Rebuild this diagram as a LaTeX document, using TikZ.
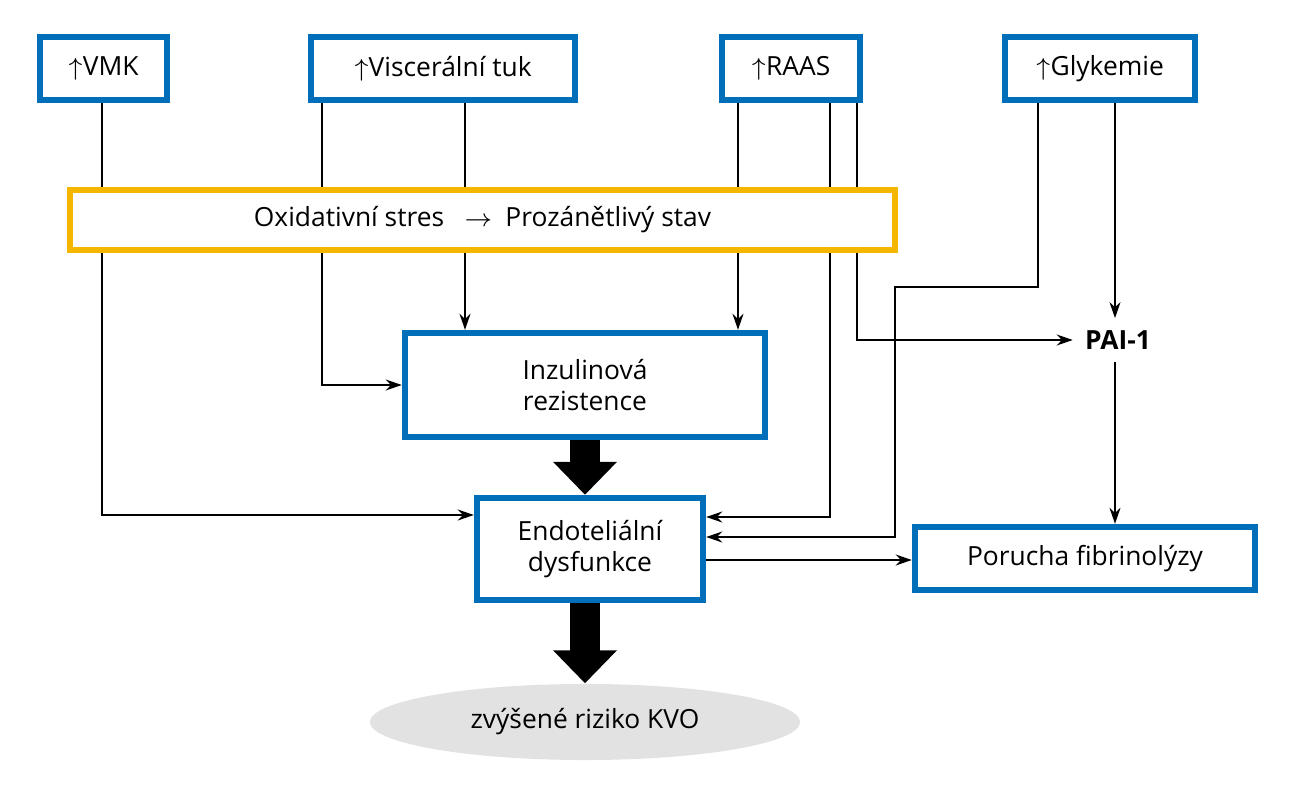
\documentclass[tikz,border=0pt]{standalone}
\usepackage{fontspec}
\setmainfont{Open Sans}
\usetikzlibrary{arrows.meta,shapes.geometric}
\definecolor{boxblue}{RGB}{0,110,185}
\definecolor{boxorange}{RGB}{245,182,0}
\definecolor{ovalgray}{RGB}{226,226,226}
\tikzset{%
  factor/.style = {shape=rectangle, draw=boxblue, line width=1.8pt,%
                   fill=white, align=center, inner sep=0pt,%
                   font=\fontsize{7.5}{9}\selectfont},%
  stress/.style = {factor, draw=boxorange},%
  link/.style   = {-{Stealth[length=1.6mm,width=1.1mm]}, line width=0.45pt},%
  bigarrow/.style = {line width=3mm, -{Triangle[length=3.3mm,width=6.2mm]}}%
}
\begin{document}
\begin{tikzpicture}[x=0.01cm,y=-0.01cm]
	\useasboundingbox (0,0) rectangle (1290,800);
	% top row
	\node [factor, minimum width=1.27cm, minimum height=0.63cm] (vmk) at (103.5,68.5) {$\uparrow$VMK};
	\node [factor, minimum width=2.64cm, minimum height=0.63cm] (tuk) at (443,68.5) {$\uparrow$Viscerální tuk};
	\node [factor, minimum width=1.38cm, minimum height=0.63cm] (raas) at (791,68.5) {$\uparrow$RAAS};
	\node [factor, minimum width=1.9cm, minimum height=0.63cm] (gly) at (1100,68.5) {$\uparrow$Glykemie};
	% middle and bottom
	\node [factor, minimum width=3.6cm, minimum height=1.04cm] (inz) at (585,385) {Inzulinová\\rezistence};
	\node [factor, minimum width=2.26cm, minimum height=1.02cm] (endo) at (590,549) {Endoteliální\\dysfunkce};
	\node [factor, minimum width=3.4cm, minimum height=0.63cm] (fib) at (1085,558.5) {Porucha fibrinolýzy};
	\node [font=\fontsize{7.5}{9}\selectfont\bfseries] (pai) at (1118,340) {PAI-1};
	\node [ellipse, fill=ovalgray, minimum width=4.3cm, minimum height=0.76cm,
	       font=\fontsize{7.5}{9}\selectfont] (kvo) at (585,722) {zvýšené riziko KVO};
	% thin connectors
	\draw [link] (vmk.south -| 102,0) |- (endo.west |- 0,515);
	\draw [link] (tuk.south -| 322,0) |- (inz.west |- 0,385);
	\draw [link] (tuk.south -| 465,0) -- (inz.north -| 465,0);
	\draw [link] (raas.south -| 738,0) -- (inz.north -| 738,0);
	\draw [link] (raas.south -| 830,0) |- (endo.east |- 0,517);
	\draw [link] (raas.south -| 857,0) |- (pai.west);
	\draw [link] (gly.south -| 1038,0) -- (1038,287) -- (895,287) |- (endo.east |- 0,537);
	\draw [link] (gly.south -| 1115,0) -- (pai.north -| 1115,0);
	\draw [link] (pai.south -| 1115,0) -- (fib.north -| 1115,0);
	\draw [link] (endo.east |- 0,560) -- (fib.west |- 0,560);
	% thick arrows
	\draw [bigarrow] (inz.south) -- (endo.north -| inz.south);
	\draw [bigarrow] (endo.south -| inz.south) -- (kvo.north);
	% stress box on top of the lines
	\node [stress, minimum width=8.25cm, minimum height=0.6cm] (ox) at (482.5,220)
	      {Oxidativní stres \enspace$\rightarrow$\enspace Prozánětlivý stav};
\end{tikzpicture}
\end{document}
